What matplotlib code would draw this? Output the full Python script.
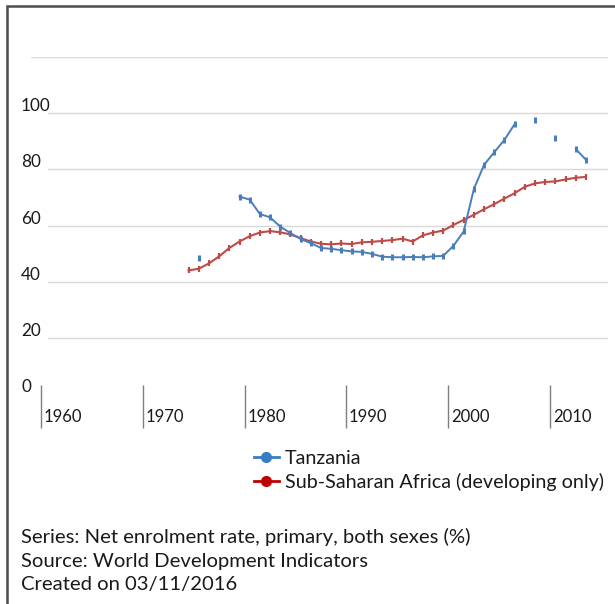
import numpy as np
import matplotlib
matplotlib.use("Agg")
import matplotlib.pyplot as plt
from matplotlib.lines import Line2D
from matplotlib.patches import Rectangle
import matplotlib.transforms as mtransforms

# ---------------- data ----------------
years = list(range(1974, 2014))

ssa = [44.0, 44.6, 46.5, 49.0, 52.0, 54.3, 56.2, 57.5, 58.0, 57.6,
       56.8, 55.5, 54.3, 53.5, 53.3, 53.6, 53.4, 54.0, 54.2, 54.5,
       54.8, 55.3, 54.3, 56.5, 57.5, 58.2, 60.2, 62.0, 63.8, 65.8,
       67.6, 69.6, 71.5, 73.8, 75.0, 75.5, 75.7, 76.4, 77.0, 77.3]

nan = np.nan
tza = [nan, 48.5, nan, nan, nan, 70.3, 69.2, 64.1, 62.9, 59.6,
       57.3, 55.2, 53.7, 52.0, 51.7, 51.2, 50.8, 50.6, 49.9, 48.9,
       48.7, 48.7, 48.8, 48.7, 49.0, 49.2, 52.8, 57.9, 73.0, 81.6,
       86.1, 90.5, 96.1, nan, 97.6, nan, 91.1, nan, 87.2, 83.4]

series_names = ["Tanzania", "Sub-Saharan Africa (developing only)"]
x_tick_years = [1960, 1970, 1980, 1990, 2000, 2010]
y_tick_values = [0, 20, 40, 60, 80, 100]
grid_values = [20, 40, 60, 80, 100, 120]
notes = ["Series: Net enrolment rate, primary, both sexes (%)",
         "Source: World Development Indicators",
         "Created on 03/11/2016"]

# ---------------- style ----------------
FONT = "Lato"
plt.rcParams["font.family"] = [FONT, "DejaVu Sans"]
BLUE = "#4a7ebb"
RED = "#be4b48"
TXT = "#1a1a1a"
GRID = "#d9d9d9"

W, H = 615, 604
fig = plt.figure(figsize=(W / 100, H / 100), dpi=100)

# axes in pixel geometry
L, R, T, B = 31.5, 608.0, 57.0, 394.0
ax = fig.add_axes([L / W, (H - B) / H, (R - L) / W, (B - T) / H])
ppy = 10.19
x0_px = 142.7  # pixel of 1970 boundary
ax.set_xlim(1970 + (L - x0_px) / ppy, 1970 + (R - x0_px) / ppy)
ax.set_ylim(0, 120)
for s in ax.spines.values():
    s.set_visible(False)
ax.set_xticks([])
ax.set_yticks([])

# gridlines
for v in grid_values:
    xmin = 0.0 if v == 120 else (48 - L) / (R - L)
    ax.axhline(v, xmin=xmin, xmax=1, color=GRID, lw=1.0, zorder=0)

# points centered in year categories
xs = np.array(years) + 0.5
ax.plot(xs, ssa, color=RED, lw=1.5, marker="|", ms=5, mew=1.6, zorder=3)
ax.plot(xs, tza, color=BLUE, lw=1.4, marker="|", ms=5, mew=2.2, zorder=4)

# y labels: left-aligned at x=21px, slightly above their gridline
ytrans = mtransforms.blended_transform_factory(fig.transFigure, ax.transData)
lift = mtransforms.ScaledTranslation(0, 2 / 100, fig.dpi_scale_trans)
for v in y_tick_values:
    ax.text(21 / W, v, str(v), transform=ytrans + lift, ha="left",
            va="baseline", fontsize=12.3, color=TXT)

# x ticks: vertical lines and labels to their right
xtr = ax.get_xaxis_transform()
y_top = (B - 385) / (B - T)
y_bot = (B - 428) / (B - T)
ax.vlines(x_tick_years, y_bot, y_top, transform=xtr, colors="#7f7f7f",
          lw=1.0, clip_on=False)
off = mtransforms.ScaledTranslation(2.5 / 100, 0, fig.dpi_scale_trans)
for yr in x_tick_years:
    ax.text(yr, (B - 422) / (B - T), str(yr), transform=xtr + off,
            ha="left", va="baseline", fontsize=12, color=TXT, clip_on=False)

# legend
handles = [Line2D([], [], color="#3a7cc2", lw=2, marker="o", ms=7),
           Line2D([], [], color="#c00000", lw=2, marker="o", ms=7)]
fig.legend(handles, series_names, loc="upper left",
           bbox_to_anchor=(254 / W, 1 - 450 / H), frameon=False,
           fontsize=14.2, handlelength=1.25, handletextpad=0.3,
           labelspacing=0.3, borderpad=0, borderaxespad=0,
           labelcolor=TXT)

# notes
for i, t in enumerate(notes):
    fig.text(21 / W, 1 - (543 + 23.5 * i) / H, t, ha="left", va="baseline",
             fontsize=14.6, color=TXT)

# outer border (left and top visible)
fig.add_artist(Rectangle((7 / W, -0.1), 1.2, 1 - 6 / H + 0.1,
                         transform=fig.transFigure, fill=False,
                         edgecolor="#4d4d4d", lw=1.8))

fig.savefig("out.png", dpi=100)
